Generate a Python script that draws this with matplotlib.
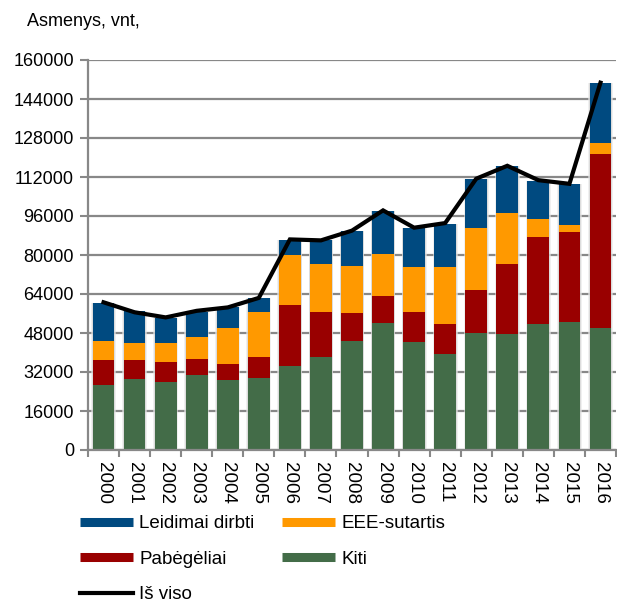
import matplotlib
matplotlib.use("Agg")
import matplotlib.pyplot as plt
import numpy as np
from matplotlib.lines import Line2D

plt.rcParams['font.family'] = ['Liberation Sans', 'DejaVu Sans']

years = [str(y) for y in range(2000, 2017)]
kiti =       [26700, 29200, 27800, 30850, 28900, 29500, 34550, 38250, 44800, 52100, 44400, 39200, 48100, 47600, 51500, 52600, 49900]
pabegeliai = [10300,  7800,  8200,  6300,  6300,  8750, 24950, 18350, 11250, 11100, 12100, 12600, 17400, 28800, 35800, 36800, 71600]
eee =        [ 7560,  6870,  8100,  9350, 15050, 18250, 20550, 19650, 19350, 17300, 18500, 23300, 25500, 20850,  7300,  2900,  4400]
leidimai =   [15800, 13300, 10000, 10000,  8500,  5900,  6300,  9700, 14400, 17700, 16200, 17800, 20000, 19200, 15900, 16800, 24500]
is_viso =    [60600, 56500, 54400, 57100, 58500, 62400, 86400, 86000, 90000, 98300, 91200, 93100, 111300, 116600, 110700, 109200, 150700]

series = [
    ("Kiti", kiti, "#436C48"),
    ("Pabėgėliai", pabegeliai, "#990000"),
    ("EEE-sutartis", eee, "#FF9900"),
    ("Leidimai dirbti", leidimai, "#004A80"),
]
yticks = list(range(0, 160001, 16000))

W, H = 617, 606
fig = plt.figure(figsize=(W / 100, H / 100), dpi=100)
ax = fig.add_axes([88 / W, (H - 450) / H, (616 - 88) / W, (450 - 60) / H])

x = np.arange(len(years))
totals = np.sum([np.array(v) for _, v, _ in series], axis=0)
# soft shadow around bars
ax.bar(x, totals, width=0.80, color="#e6e6e6", alpha=0.6, zorder=1.8, linewidth=0)
ax.bar(x, totals, width=0.75, color="#d0d0d0", alpha=0.6, zorder=1.9, linewidth=0)

bottom = np.zeros(len(years))
colors = {}
for name, vals, col in series:
    ax.bar(x, vals, width=0.7, bottom=bottom, color=col, zorder=2, linewidth=0)
    bottom += np.array(vals)
    colors[name] = col
ax.plot(x, is_viso, color="black", lw=3, zorder=3, solid_joinstyle="miter")

grid_col = "#888888"
ax.set_xlim(-0.5, len(years) - 0.5)
ax.set_ylim(0, 160000)
ax.set_yticks(yticks)
ax.set_yticklabels([str(v) for v in yticks], fontsize=13)
ax.yaxis.grid(True, color=grid_col, lw=1.6, zorder=0)
ax.set_axisbelow(True)
ax.tick_params(axis="y", length=6, width=1.5, color=grid_col, pad=4)

ax.set_xticks(x)
ax.set_xticklabels(years, rotation=-90, fontsize=13.5)
ax.tick_params(axis="x", which="major", length=0, pad=9)
ax.set_xticks(np.arange(-0.5, len(years), 1), minor=True)
ax.tick_params(axis="x", which="minor", length=5, width=1.5, color=grid_col)

for s in ["top", "right"]:
    ax.spines[s].set_visible(False)
for s in ["left", "bottom"]:
    ax.spines[s].set_color(grid_col)
    ax.spines[s].set_linewidth(1.6)

fig.text(27 / W, 1 - 22 / H, "Asmenys, vnt,", fontsize=13, ha="left", va="center")

handles = [
    Line2D([], [], color=colors["Leidimai dirbti"], lw=6.5, solid_capstyle="butt"),
    Line2D([], [], color=colors["Pabėgėliai"], lw=6.5, solid_capstyle="butt"),
    Line2D([], [], color="black", lw=3),
    Line2D([], [], color=colors["EEE-sutartis"], lw=6.5, solid_capstyle="butt"),
    Line2D([], [], color=colors["Kiti"], lw=6.5, solid_capstyle="butt"),
]
labels = ["Leidimai dirbti", "Pabėgėliai", "Iš viso", "EEE-sutartis", "Kiti"]
fig.legend(handles, labels, ncol=2, loc="upper left",
           bbox_to_anchor=(80 / W, 1 - 515 / H), frameon=False, fontsize=13.5,
           handlelength=2.8, handletextpad=0.35, labelspacing=0.98,
           columnspacing=1.5, borderpad=0, borderaxespad=0)

fig.savefig("out.png", dpi=100)
